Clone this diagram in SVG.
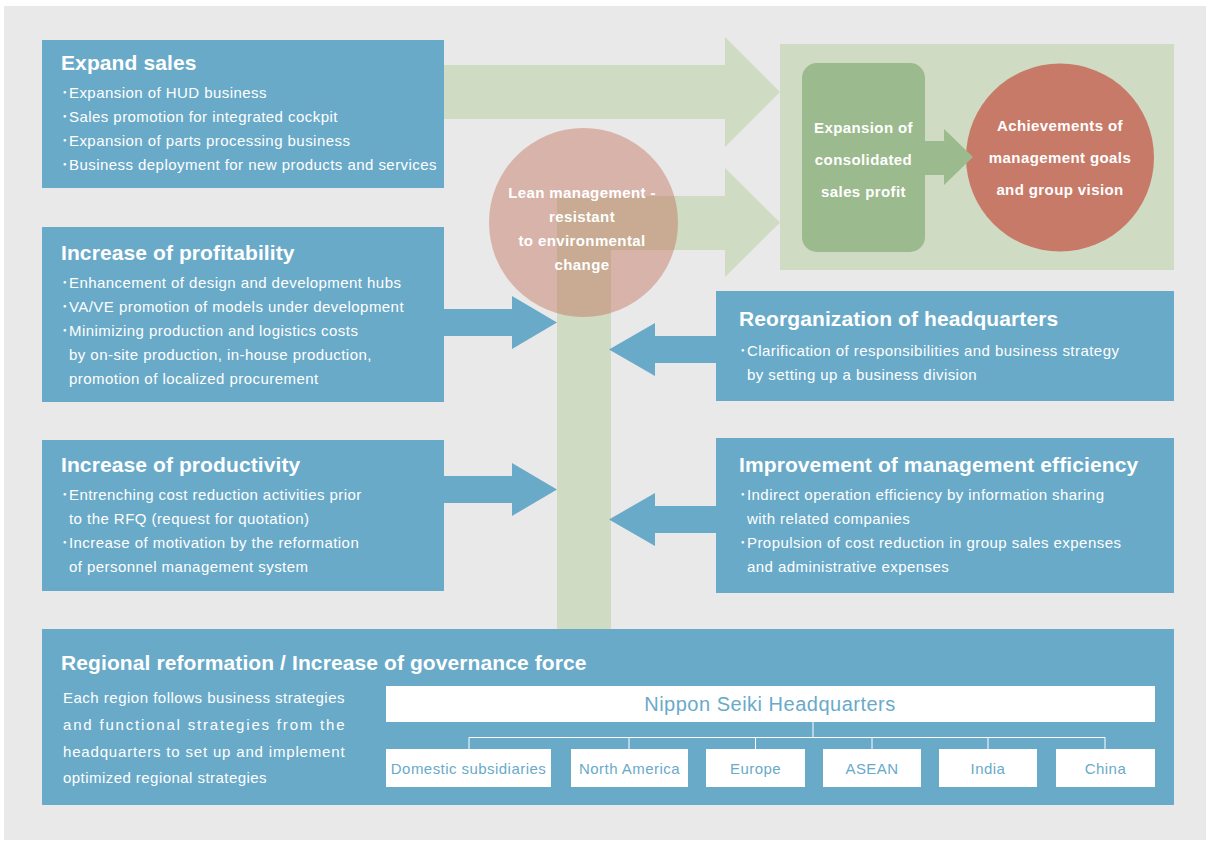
<svg xmlns="http://www.w3.org/2000/svg" width="1206" height="841" viewBox="0 0 1206 841">
<style>
.bg{fill:#e9e9e9}
.box{fill:#69aac9}
.lg{fill:#cfdbc3}
.mg{fill:#9bba8d}
.t{font-family:"Liberation Sans","Noto Sans CJK JP",Arial,sans-serif;fill:#fff}
.h{font-size:21px;font-weight:bold;letter-spacing:0.1px}
.b{font-size:15px;letter-spacing:0.45px}
.c{font-size:15px;font-weight:bold;letter-spacing:0.4px;text-anchor:middle}
.hq{fill:#fff}
.bt{font-family:"Liberation Sans",Arial,sans-serif;fill:#69aac9;text-anchor:middle;font-size:15px;letter-spacing:0.45px}
.ln{stroke:#fff;stroke-width:1;fill:none}
</style>
<rect class="bg" x="4" y="6" width="1202" height="834"/>

<g id="connectors">
  <path class="lg" d="M444,65 H725 V37 L780,92 L725,147 V119 H444 Z"/>
  <path class="lg" d="M557,196 H725 V168 L780,222.5 L725,277 V250 H611 V629 H557 Z"/>
</g>

<g id="lean">
  <circle cx="583.5" cy="222.5" r="94.5" fill="#bf5d43" fill-opacity="0.385"/>
  <text class="t c" x="582" y="198">Lean management -</text>
  <text class="t c" x="582" y="222">resistant</text>
  <text class="t c" x="582" y="246">to environmental</text>
  <text class="t c" x="582" y="270">change</text>
</g>

<g id="goal-panel">
  <rect class="lg" x="780" y="44" width="394" height="226"/>
</g>
<g id="consolidated">
  <rect class="mg" x="802" y="63" width="123" height="189" rx="15"/>
  <text class="t c" x="863.5" y="133">Expansion of</text>
  <text class="t c" x="863.5" y="165">consolidated</text>
  <text class="t c" x="863.5" y="197">sales profit</text>
</g>
<g id="achievements">
  <circle cx="1060" cy="157.5" r="94" fill="#c87a68"/>
  <text class="t c" x="1060" y="131">Achievements of</text>
  <text class="t c" x="1060" y="163">management goals</text>
  <text class="t c" x="1060" y="195">and group vision</text>
</g>

<g id="expand-sales">
  <rect class="box" x="42" y="40" width="402" height="148"/>
  <text class="t h" x="61" y="69.5">Expand sales</text>
  <text class="t b" x="61" y="97.5">･Expansion of HUD business</text>
  <text class="t b" x="61" y="121.5">･Sales promotion for integrated cockpit</text>
  <text class="t b" x="61" y="145.5">･Expansion of parts processing business</text>
  <text class="t b" x="61" y="169.5">･Business deployment for new products and services</text>
</g>

<g id="profitability">
  <rect class="box" x="42" y="227" width="402" height="175"/>
  <text class="t h" x="61" y="259.5">Increase of profitability</text>
  <text class="t b" x="61" y="287.5">･Enhancement of design and development hubs</text>
  <text class="t b" x="61" y="311.5">･VA/VE promotion of models under development</text>
  <text class="t b" x="61" y="335.5">･Minimizing production and logistics costs</text>
  <text class="t b" x="69" y="359.5">by on-site production, in-house production,</text>
  <text class="t b" x="69" y="383.5">promotion of localized procurement</text>
</g>

<g id="productivity">
  <rect class="box" x="42" y="440" width="402" height="151"/>
  <text class="t h" x="61" y="471.5">Increase of productivity</text>
  <text class="t b" x="61" y="500">･Entrenching cost reduction activities prior</text>
  <text class="t b" x="69" y="524">to the RFQ (request for quotation)</text>
  <text class="t b" x="61" y="548">･Increase of motivation by the reformation</text>
  <text class="t b" x="69" y="572">of personnel management system</text>
</g>

<g id="reorganization">
  <rect class="box" x="716" y="291" width="458" height="110"/>
  <text class="t h" x="739" y="325.5">Reorganization of headquarters</text>
  <text class="t b" x="739" y="356">･Clarification of responsibilities and business strategy</text>
  <text class="t b" x="747" y="380">by setting up a business division</text>
</g>

<g id="efficiency">
  <rect class="box" x="716" y="438" width="458" height="155"/>
  <text class="t h" x="739" y="471.5">Improvement of management efficiency</text>
  <text class="t b" x="739" y="500">･Indirect operation efficiency by information sharing</text>
  <text class="t b" x="747" y="524">with related companies</text>
  <text class="t b" x="739" y="548">･Propulsion of cost reduction in group sales expenses</text>
  <text class="t b" x="747" y="572">and administrative expenses</text>
</g>

<g id="blue-arrows">
  <path class="box" d="M444,309 H512 V296 L557,322.5 L512,349 V336 H444 Z"/>
  <path class="box" d="M444,476 H512 V463 L557,489.5 L512,516 V503 H444 Z"/>
  <path class="box" d="M716,336 H655 V323 L609,349.5 L655,376 V363 H716 Z"/>
  <path class="box" d="M716,506 H655 V493 L609,519.5 L655,546 V533 H716 Z"/>
  <path class="mg" d="M925,141 H944 V129 L973,157 L944,185 V175 H925 Z"/>
</g>

<g id="regional">
  <rect class="box" x="42" y="629" width="1132" height="176"/>
  <text class="t h" x="61" y="669.5">Regional reformation / Increase of governance force</text>
  <text class="t b" x="63" y="703" textLength="282" lengthAdjust="spacing">Each region follows business strategies</text>
  <text class="t b" x="63" y="730" textLength="282" lengthAdjust="spacing">and functional strategies from the</text>
  <text class="t b" x="63" y="757" textLength="282" lengthAdjust="spacing">headquarters to set up and implement</text>
  <text class="t b" x="63" y="783">optimized regional strategies</text>
</g>

<g id="org-lines">
  <path class="ln" d="M813,722 V737 M469,749 V737.5 H1105 V749 M629,737 V749 M755.5,737 V749 M872,737 V749 M988,737 V749"/>
</g>
<g id="hq">
  <rect class="hq" x="386" y="686" width="769" height="36"/>
  <text class="bt" x="770" y="711" style="font-size:20px;letter-spacing:0.5px">Nippon Seiki Headquarters</text>
</g>
<g id="domestic"><rect class="hq" x="386" y="749" width="165" height="38"/><text class="bt" x="468.5" y="774">Domestic subsidiaries</text></g>
<g id="north-america"><rect class="hq" x="571" y="749" width="117" height="38"/><text class="bt" x="629.5" y="774">North America</text></g>
<g id="europe"><rect class="hq" x="706" y="749" width="99" height="38"/><text class="bt" x="755.5" y="774">Europe</text></g>
<g id="asean"><rect class="hq" x="823" y="749" width="98" height="38"/><text class="bt" x="872" y="774">ASEAN</text></g>
<g id="india"><rect class="hq" x="939" y="749" width="98" height="38"/><text class="bt" x="988" y="774">India</text></g>
<g id="china"><rect class="hq" x="1056" y="749" width="99" height="38"/><text class="bt" x="1105.5" y="774">China</text></g>
</svg>
